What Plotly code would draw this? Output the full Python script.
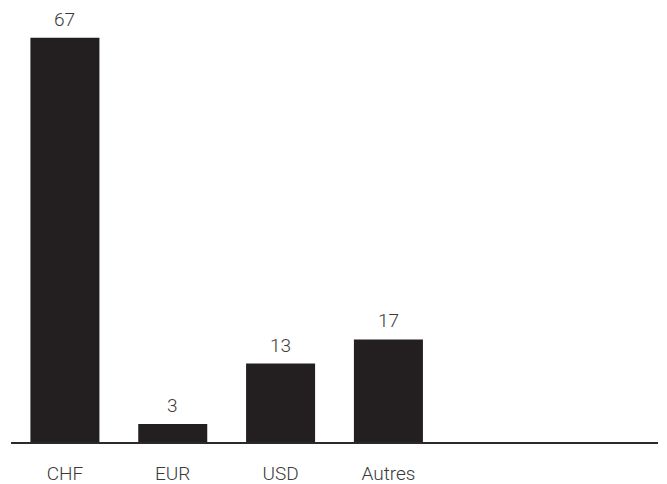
import plotly.graph_objects as go

categories = ["CHF", "EUR", "USD", "Autres"]
values = [67, 3, 13, 17]
n_slots = 6

x = list(range(len(categories)))

FONT = "Roboto, Arial"

fig = go.Figure()
fig.add_trace(go.Bar(x=x, y=values, width=0.64, marker=dict(color="#231f20", line=dict(width=0)),
                     hoverinfo="skip"))

for xi, v in zip(x, values):
    fig.add_annotation(x=xi, y=v, text=str(v), showarrow=False, yanchor="bottom", yshift=5,
                       font=dict(size=19, color="#3a3a3a", family=FONT, weight=300))

fig.update_layout(
    width=667, height=484,
    margin=dict(l=11, r=9, t=10, b=42, autoexpand=False),
    paper_bgcolor="white", plot_bgcolor="white",
    showlegend=False,
    font=dict(family=FONT, size=19, color="#3a3a3a", weight=300),
    xaxis=dict(range=[-0.5, n_slots - 0.5], tickvals=x, ticktext=categories, automargin=False,
               showline=True, linecolor="#2a2a2a", linewidth=2, showgrid=False, zeroline=False,
               ticks="outside", ticklen=13, tickcolor="rgba(0,0,0,0)"),
    yaxis=dict(range=[0, 71.6], visible=False, showgrid=False, zeroline=False, automargin=False),
)

fig.write_html("out.html", config={"displayModeBar": False},
               post_script="document.body.style.margin='0';document.body.style.overflow='hidden';")
